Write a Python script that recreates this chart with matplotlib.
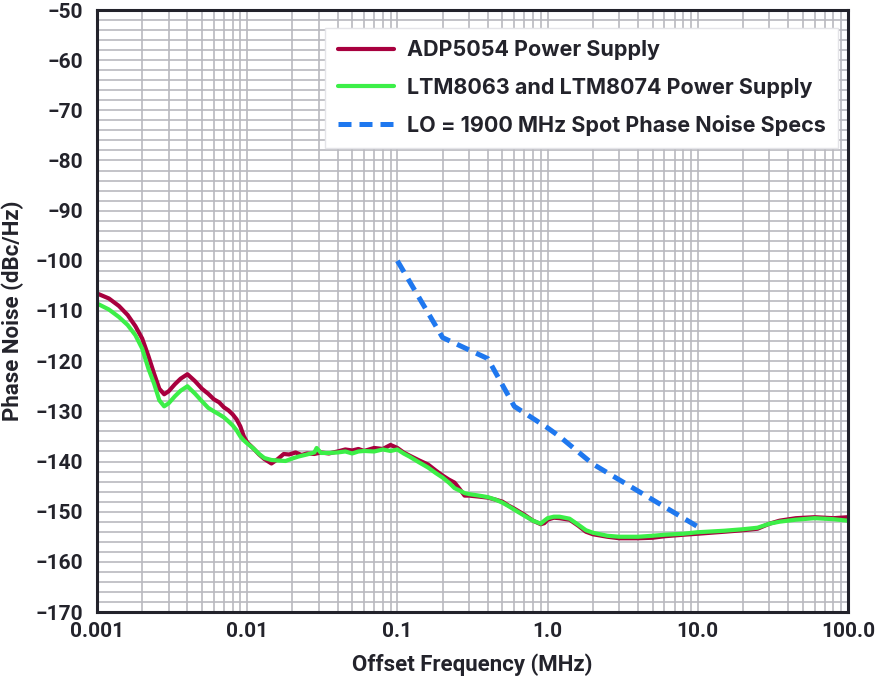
import matplotlib
matplotlib.use("Agg")
import matplotlib.pyplot as plt
from matplotlib.ticker import FixedLocator, LogLocator, NullFormatter, MultipleLocator

# ---- data ----
adp_freq = [0.001, 0.0012, 0.0014, 0.0016, 0.0018, 0.002, 0.0022, 0.0024, 0.0026, 0.0028,
            0.003, 0.0033, 0.0036, 0.004, 0.0045, 0.005, 0.0055, 0.006, 0.0065, 0.007,
            0.0075, 0.008, 0.0085, 0.009, 0.0095, 0.010, 0.011, 0.012, 0.013, 0.0145,
            0.016, 0.0175, 0.019, 0.021, 0.023, 0.025, 0.028, 0.031, 0.035, 0.04,
            0.045, 0.05, 0.055, 0.06, 0.07, 0.08, 0.09, 0.1, 0.11, 0.12,
            0.14, 0.16, 0.18, 0.2, 0.22, 0.24, 0.26, 0.28, 0.3, 0.35,
            0.4, 0.45, 0.5, 0.55, 0.6, 0.7, 0.8, 0.9, 0.95, 1.0,
            1.1, 1.2, 1.4, 1.6, 1.8, 2.0, 2.5, 3.0, 4.0, 5.0,
            6.0, 8.0, 10, 15, 20, 25, 30, 35, 45, 60, 80, 100]
adp_noise = [-106.5, -107.5, -109.0, -110.8, -113.0, -115.5, -119.0, -122.5, -125.5, -126.6,
             -126.0, -124.6, -123.5, -122.6, -124.0, -125.5, -126.5, -127.6, -128.2, -129.2,
             -129.8, -130.6, -131.6, -133.0, -135.0, -136.2, -137.4, -138.6, -139.5, -140.4,
             -139.5, -138.5, -138.6, -138.2, -138.7, -138.4, -138.5, -138.2, -138.4, -138.0,
             -137.6, -137.8, -137.5, -137.9, -137.3, -137.5, -136.7, -137.3, -138.2, -138.8,
             -139.8, -140.6, -141.8, -142.8, -143.6, -144.2, -145.5, -146.8, -146.8, -147.0,
             -147.2, -147.6, -148.0, -148.8, -149.4, -150.6, -151.8, -152.5, -152.3, -151.6,
             -151.2, -151.3, -151.6, -152.8, -154.0, -154.5, -155.0, -155.3, -155.3, -155.2,
             -154.9, -154.6, -154.4, -154.0, -153.7, -153.4, -152.4, -151.8, -151.3, -151.1, -151.3, -151.1]

ltm_freq = [0.001, 0.0012, 0.0014, 0.0016, 0.0018, 0.002, 0.0022, 0.0024, 0.0026, 0.0028,
            0.003, 0.0033, 0.0036, 0.004, 0.0045, 0.005, 0.0055, 0.006, 0.0065, 0.007,
            0.0075, 0.008, 0.0085, 0.009, 0.0095, 0.010, 0.011, 0.012, 0.013, 0.0145,
            0.016, 0.018, 0.02, 0.022, 0.025, 0.028, 0.029, 0.031, 0.035, 0.04,
            0.045, 0.05, 0.055, 0.06, 0.07, 0.08, 0.09, 0.1, 0.11, 0.12,
            0.14, 0.16, 0.18, 0.2, 0.22, 0.24, 0.26, 0.28, 0.3, 0.35,
            0.4, 0.45, 0.5, 0.55, 0.6, 0.7, 0.8, 0.9, 0.95, 1.0,
            1.1, 1.2, 1.4, 1.6, 1.8, 2.0, 2.5, 3.0, 4.0, 5.0,
            6.0, 8.0, 10, 15, 20, 25, 30, 35, 45, 60, 80, 100]
ltm_noise = [-108.5, -109.7, -111.2, -112.8, -114.8, -117.5, -121.5, -124.5, -127.8, -129.0,
             -128.4, -127.0, -125.9, -125.0, -126.5, -128.0, -129.3, -130.0, -130.6, -131.2,
             -132.0, -132.8, -133.8, -135.0, -135.8, -136.4, -137.4, -138.5, -139.3, -139.7,
             -139.8, -139.9, -139.4, -139.0, -138.6, -138.2, -137.3, -138.3, -138.3, -138.2,
             -138.0, -138.4, -138.0, -137.9, -138.0, -137.6, -137.9, -137.6, -138.4, -139.0,
             -140.2, -141.2, -142.3, -143.2, -144.2, -145.3, -145.8, -146.3, -146.5, -146.8,
             -147.1, -147.6, -148.2, -148.9, -149.6, -150.8, -151.8, -152.4, -151.8, -151.3,
             -151.0, -151.0, -151.4, -152.6, -153.7, -154.2, -154.8, -155.0, -155.0, -154.8,
             -154.6, -154.4, -154.1, -153.8, -153.5, -153.2, -152.4, -152.0, -151.6, -151.3, -151.5, -151.8]

spec_freq = [0.1, 0.2, 0.4, 0.6, 1.0, 1.2, 2.0, 10.0]
spec_noise = [-100.0, -115.3, -119.5, -129.0, -133.3, -135.0, -140.5, -153.0]

x_ticks = [0.001, 0.01, 0.1, 1.0, 10.0, 100.0]
x_tick_labels = ["0.001", "0.01", "0.1", "1.0", "10.0", "100.0"]
y_ticks = list(range(-170, -49, 10))
y_tick_labels = ["\u2212" + str(abs(v)) for v in y_ticks]

labels = ["ADP5054 Power Supply", "LTM8063 and LTM8074 Power Supply",
          "LO = 1900 MHz Spot Phase Noise Specs"]

# ---- style ----
dark = "#23232b"
grid_c = "#b9b9bf"
red = "#a8003e"
green = "#3cef48"
blue = "#1f78ef"

fig = plt.figure(figsize=(8.79, 6.78), dpi=100)
ax = fig.add_axes([97 / 879, 1 - 612 / 678, (848 - 97) / 879, (612 - 10) / 678])

ax.set_xscale("log")
ax.set_xlim(0.001, 100)
ax.set_ylim(-170, -50)

ax.xaxis.set_major_locator(FixedLocator(x_ticks))
ax.xaxis.set_minor_locator(LogLocator(base=10, subs=range(2, 10), numticks=100))
ax.xaxis.set_minor_formatter(NullFormatter())
ax.yaxis.set_major_locator(FixedLocator(y_ticks))
ax.yaxis.set_minor_locator(MultipleLocator(2))

ax.grid(True, which="both", color=grid_c, linewidth=1.2)
ax.set_axisbelow(True)
ax.tick_params(which="both", length=0)

tick_font = dict(family="Roboto", weight="bold", size=15, color=dark)
ax.set_xticklabels(x_tick_labels, **tick_font)
ax.set_yticks(y_ticks)
ax.set_yticklabels(y_tick_labels, **tick_font)
ax.tick_params(axis="x", pad=7)
ax.tick_params(axis="y", pad=10)

for s in ax.spines.values():
    s.set_color(dark)
    s.set_linewidth(2.2)

ax.plot(adp_freq, adp_noise, color=red, linewidth=3.0, label=labels[0], solid_capstyle="round")
ax.plot(ltm_freq, ltm_noise, color=green, linewidth=3.0, label=labels[1], solid_capstyle="round")
ax.plot(spec_freq, spec_noise, color=blue, linewidth=3.6, linestyle=(0, (2.6, 1.6)),
        dash_capstyle="butt", label=labels[2])

ax.set_xlabel("Offset Frequency (MHz)", family="Roboto", weight="bold", size=16, color=dark, labelpad=9)
ax.set_ylabel("Phase Noise (dBc/Hz)", family="Roboto", weight="bold", size=16, color=dark, labelpad=8)

leg = ax.legend(loc="upper right", bbox_to_anchor=((838 - 97) / 751, (612 - 28) / 602),
                prop=dict(family="Inter", weight="bold", size=15.5), frameon=True, fancybox=False,
                framealpha=1, edgecolor="#e4e4e8", handlelength=2.6, handletextpad=0.6,
                labelspacing=0.8, borderpad=0.58, borderaxespad=0)
for t in leg.get_texts():
    t.set_color(dark)
leg.get_frame().set_linewidth(1.0)

fig.savefig("out.png", dpi=100)
